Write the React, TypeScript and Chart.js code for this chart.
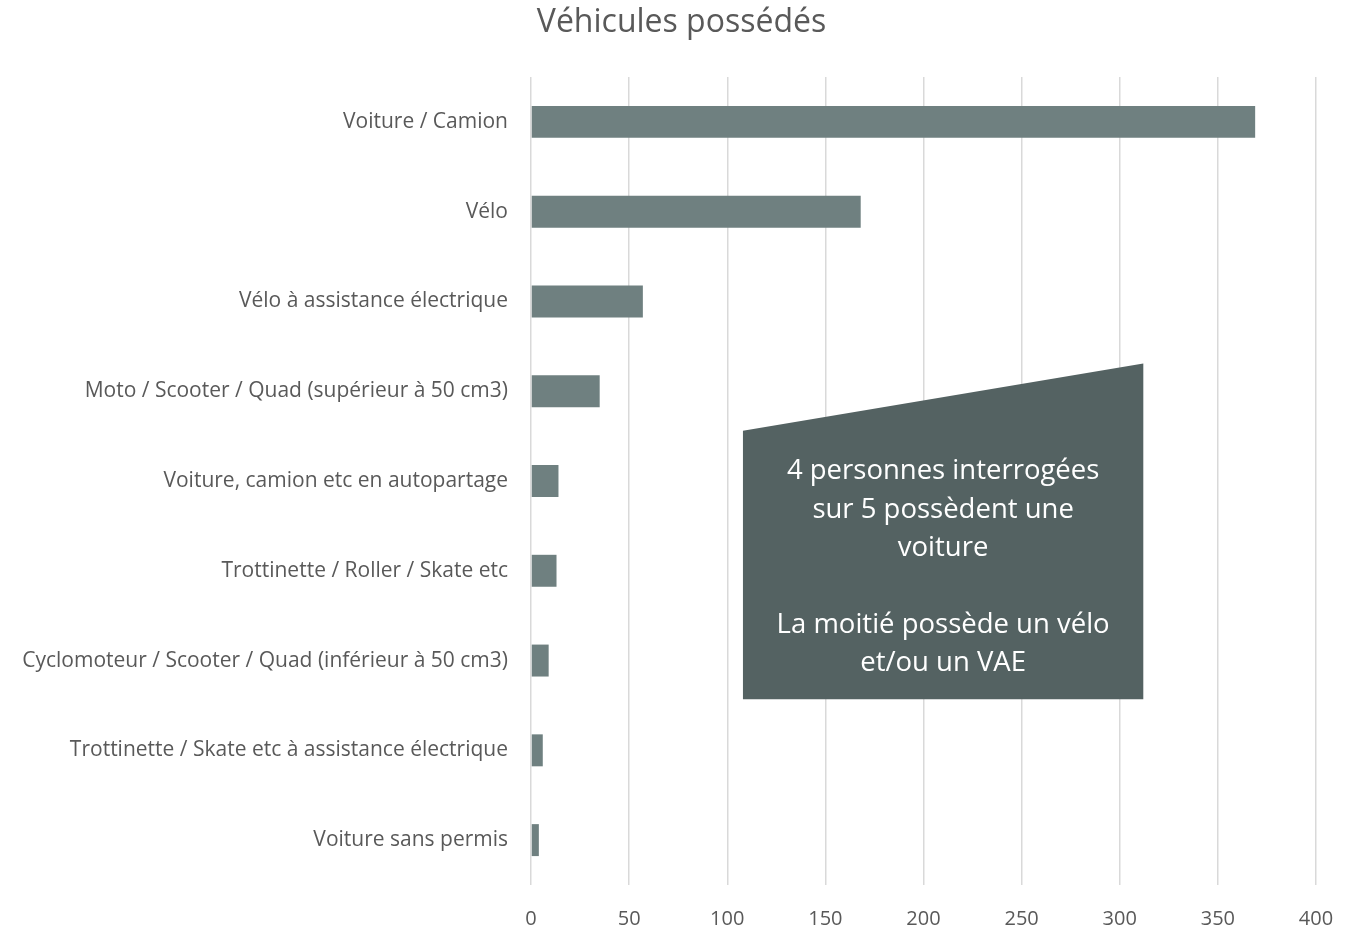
import React, { useEffect, useRef } from "react";
import { Chart, registerables } from "chart.js";

Chart.register(...registerables);

const TITLE = "Véhicules possédés";
const CATEGORIES = [
  "Voiture / Camion",
  "Vélo",
  "Vélo à assistance électrique",
  "Moto / Scooter / Quad (supérieur à 50 cm3)",
  "Voiture, camion etc en autopartage",
  "Trottinette / Roller / Skate etc",
  "Cyclomoteur / Scooter / Quad (inférieur à 50 cm3)",
  "Trottinette / Skate etc à assistance électrique",
  "Voiture sans permis",
];
const VALUES = [369, 168, 57, 35, 14, 13, 9, 6, 4];
const X_MIN = 0;
const X_MAX = 400;
const X_STEP = 50;
const NOTE_LINES = [
  "4 personnes interrogées",
  "sur 5 possèdent une",
  "voiture",
  "",
  "La moitié possède un vélo",
  "et/ou un VAE",
];

const FONT = "'Open Sans', sans-serif";

const titlePlugin = {
  id: "pageTitle",
  afterDraw(chart: any) {
    const { ctx } = chart;
    ctx.save();
    ctx.fillStyle = "#595959";
    ctx.font = "32px " + FONT;
    ctx.textAlign = "center";
    ctx.textBaseline = "middle";
    ctx.fillText(TITLE, chart.width / 2, 23);
    ctx.restore();
  },
};

const notePlugin = {
  id: "notePlugin",
  afterDatasetsDraw(chart: any) {
    const { ctx, scales } = chart;
    const x = scales.x;
    const y = scales.y;
    const step = y.getPixelForValue(1) - y.getPixelForValue(0);
    const y0 = y.getPixelForValue(0);
    const left = x.getPixelForValue(108);
    const right = x.getPixelForValue(312);
    const topLeft = y0 + step * 3.44;
    const topRight = y0 + step * 2.69;
    const bottom = y0 + step * 6.43;
    ctx.save();
    ctx.fillStyle = "#546262";
    ctx.beginPath();
    ctx.moveTo(left, topLeft);
    ctx.lineTo(right, topRight);
    ctx.lineTo(right, bottom);
    ctx.lineTo(left, bottom);
    ctx.closePath();
    ctx.fill();
    ctx.fillStyle = "#ffffff";
    ctx.font = "27.5px " + FONT;
    ctx.textAlign = "center";
    ctx.textBaseline = "middle";
    const cx = (left + right) / 2;
    const lh = 38.3;
    const firstY = bottom - 36 - lh * (NOTE_LINES.length - 1);
    NOTE_LINES.forEach((line, i) => {
      if (line) ctx.fillText(line, cx, firstY + i * lh);
    });
    ctx.restore();
  },
};

export default function App() {
  const ref = useRef<HTMLCanvasElement>(null);
  useEffect(() => {
    document.body.style.margin = "0";
    const chart = new Chart(ref.current as HTMLCanvasElement, {
      type: "bar",
      data: {
        labels: CATEGORIES,
        datasets: [
          {
            data: VALUES,
            backgroundColor: "#6f8080",
            borderWidth: 0,
            categoryPercentage: 1,
            barPercentage: 0.356,
          },
        ],
      },
      options: {
        indexAxis: "y",
        animation: false,
        responsive: false,
        maintainAspectRatio: false,
        layout: { padding: { top: 77, right: 47, bottom: 0, left: 0 } },
        plugins: {
          legend: { display: false },
          tooltip: { enabled: false },
          title: { display: false },
        },
        scales: {
          x: {
            min: X_MIN,
            max: X_MAX,
            ticks: {
              stepSize: X_STEP,
              color: "#595959",
              font: { family: FONT, size: 20 },
              padding: 22,
            },
            grid: { color: "#d9d9d9", lineWidth: 1.5, drawTicks: false },
            border: { display: false },
            afterFit: (s: any) => {
              s.height = 45;
            },
          },
          y: {
            ticks: {
              color: "#595959",
              font: { family: FONT, size: 21 },
              padding: 23,
              autoSkip: false,
            },
            grid: { display: false, drawTicks: false },
            border: { display: false },
            afterFit: (s: any) => {
              s.width = 531;
            },
          },
        },
      },
      plugins: [notePlugin, titlePlugin],
    } as any);
    return () => chart.destroy();
  }, []);
  return (
    <div style={{ position: "absolute", left: 0, top: 0, width: 1363, height: 930, background: "#fff" }}>
      <canvas ref={ref} width={1363} height={930} />
    </div>
  );
}
